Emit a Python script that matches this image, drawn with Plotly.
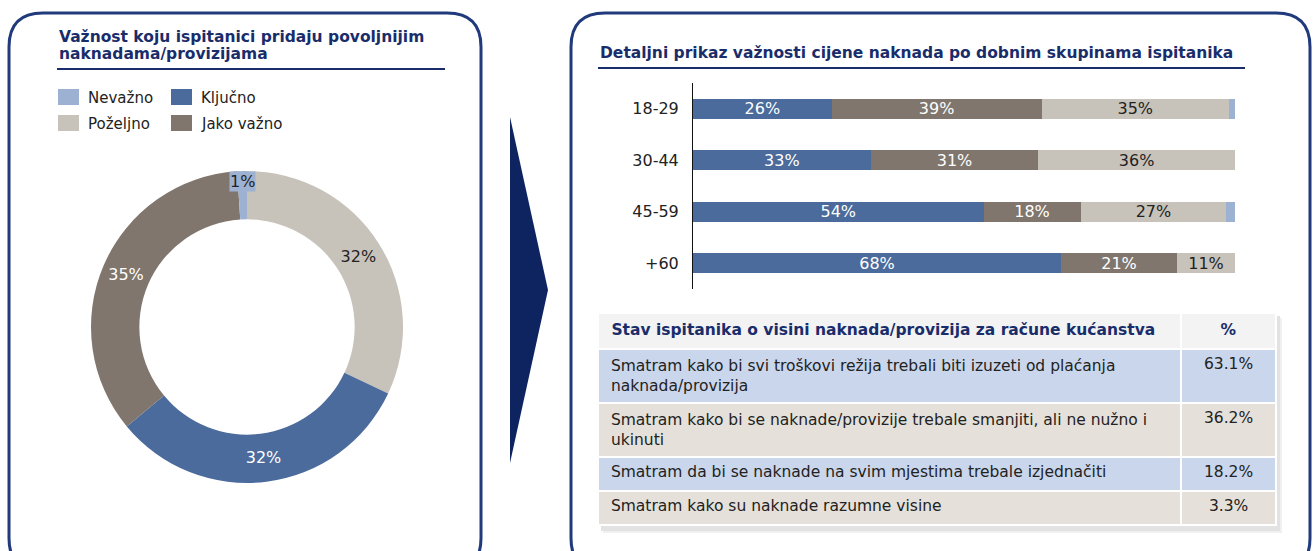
import math
import plotly.graph_objects as go

W, H = 1313, 551

# --- data ---
donut_labels = ["Poželjno", "Ključno", "Jako važno", "Nevažno"]
donut_values = [32, 32, 35, 1]

age_groups = ["18-29", "30-44", "45-59", "+60"]
kljucno = [25.6, 32.8, 53.6, 67.9]
jako_vazno = [38.7, 30.9, 17.9, 21.4]
pozeljno = [34.6, 36.3, 26.9, 10.7]
nevazno = [1.1, 0.0, 1.6, 0.0]

table_header = ["Stav ispitanika o visini naknada/provizija za račune kućanstva", "%"]
table_rows = [
    "Smatram kako bi svi troškovi režija trebali biti izuzeti od plaćanja<br>naknada/provizija",
    "Smatram kako bi se naknade/provizije trebale smanjiti, ali ne nužno i<br>ukinuti",
    "Smatram da bi se naknade na svim mjestima trebale izjednačiti",
    "Smatram kako su naknade razumne visine",
]
table_pct = [63.1, 36.2, 18.2, 3.3]

# --- styling ---
C_NEV = "#9db2d3"
C_KLJ = "#4a6b9b"
C_POZ = "#c8c3ba"
C_JAK = "#80766d"
NAVY = "#1a2d6b"
BORDER = "#203a7c"
FONT = "DejaVu Sans"
colour = {"Nevažno": C_NEV, "Ključno": C_KLJ, "Poželjno": C_POZ, "Jako važno": C_JAK}


def px(x):
    return x / W


def py(y):
    return 1 - y / H


fig = go.Figure()

# donut
cx, cy, r = 247, 327, 156
fig.add_trace(go.Pie(
    labels=donut_labels, values=donut_values, sort=False, direction="clockwise", rotation=0,
    hole=0.69, marker=dict(colors=[colour[l] for l in donut_labels], line=dict(width=0)),
    texttemplate=["%{value}%", "%{value}%", "%{value}%", ""], textposition="inside",
    insidetextorientation="horizontal",
    textfont=dict(family=FONT, size=16, color=["#222222", "white", "white", "#222222"]),
    domain=dict(x=[px(cx - r), px(cx + r)], y=[py(cy + r), py(cy - r)]),
    showlegend=False, hoverinfo="label+percent",
))

# stacked bars
for name, vals, tc in [("Ključno", kljucno, "white"), ("Jako važno", jako_vazno, "white"),
                       ("Poželjno", pozeljno, "#222222"), ("Nevažno", nevazno, "#222222")]:
    fig.add_trace(go.Bar(
        y=age_groups, x=vals, orientation="h", name=name, marker=dict(color=colour[name], line=dict(width=0)),
        texttemplate="%{x:.0f}%" if name != "Nevažno" else None, textposition="inside" if name != "Nevažno" else "none",
        insidetextanchor="middle", constraintext="none", textangle=0,
        textfont=dict(family=FONT, size=16, color=tc), showlegend=False,
    ))

# table
row_fill = ["#cad6eb", "#e5e1da", "#cad6eb", "#e5e1da"]
pad = "\u00a0"
fig.add_trace(go.Table(
    domain=dict(x=[px(598), px(1277)], y=[py(530), py(313)]),
    columnwidth=[584, 95],
    header=dict(values=[f"<b>{pad}{table_header[0]}</b>", f"<b>{table_header[1]}</b>"], fill_color="#f3f3f3",
                line=dict(color="white", width=2), align=["left", "center"], height=36,
                font=dict(family=FONT, size=15.5, color=NAVY)),
    cells=dict(values=[[pad + t.replace("<br>", "<br>" + pad) for t in table_rows],
                       [f"{v:.1f}%" for v in table_pct]],
               fill_color=[row_fill, row_fill],
               line=dict(color="white", width=2), align=["left", "center"], height=34,
               font=dict(family=FONT, size=15.5, color="#222222")),
))

shapes = []


def panel(x0, y0, x1, y1, rad):
    path = (f"M {px(x0)} {py(y0 + rad)} Q {px(x0)} {py(y0)} {px(x0 + rad)} {py(y0)} "
            f"L {px(x1 - rad)} {py(y0)} Q {px(x1)} {py(y0)} {px(x1)} {py(y0 + rad)} "
            f"L {px(x1)} {py(y1 - rad)} Q {px(x1)} {py(y1)} {px(x1 - rad)} {py(y1)} "
            f"L {px(x0 + rad)} {py(y1)} Q {px(x0)} {py(y1)} {px(x0)} {py(y1 - rad)} Z")
    return dict(type="path", xref="paper", yref="paper", path=path,
                line=dict(color=BORDER, width=3), fillcolor="rgba(0,0,0,0)", layer="below")


shapes.append(panel(9, 13, 481, 572, 34))
shapes.append(panel(571, 13, 1310, 572, 34))

# arrow
shapes.append(dict(type="path", xref="paper", yref="paper",
                   path=f"M {px(510)} {py(117)} L {px(548)} {py(290)} L {px(510)} {py(463)} Z",
                   fillcolor="#0e2460", line=dict(width=0)))

# title underlines
shapes.append(dict(type="line", xref="paper", yref="paper", x0=px(57), x1=px(445), y0=py(69), y1=py(69),
                   line=dict(color=NAVY, width=2)))
shapes.append(dict(type="line", xref="paper", yref="paper", x0=px(598), x1=px(1245), y0=py(68), y1=py(68),
                   line=dict(color=NAVY, width=2)))

# soft table shadow
for off, col in [(5, "#f0f0f0"), (3, "#e2e2e2")]:
    shapes.append(dict(type="rect", xref="paper", yref="paper", x0=px(598 + off), x1=px(1277 + off),
                       y0=py(528 + off), y1=py(313 + off), fillcolor=col, line=dict(width=0), layer="below"))

annotations = [
    dict(x=px(57), y=py(37), xref="paper", yref="paper", xanchor="left", yanchor="middle",
         text="<b>Važnost koju ispitanici pridaju povoljnijim</b>", showarrow=False,
         font=dict(family=FONT, size=15.5, color=NAVY)),
    dict(x=px(57), y=py(54), xref="paper", yref="paper", xanchor="left", yanchor="middle",
         text="<b>naknadama/provizijama</b>", showarrow=False,
         font=dict(family=FONT, size=15.5, color=NAVY)),
    dict(x=px(598), y=py(53), xref="paper", yref="paper", xanchor="left", yanchor="middle",
         text="<b>Detaljni prikaz važnosti cijene naknada po dobnim skupinama ispitanika</b>", showarrow=False,
         font=dict(family=FONT, size=15.5, color=NAVY)),
]

# manual legend
legend_items = [("Nevažno", 58, 97), ("Ključno", 171, 97), ("Poželjno", 58, 123), ("Jako važno", 171, 123)]
for name, lx, ly in legend_items:
    shapes.append(dict(type="rect", xref="paper", yref="paper", x0=px(lx), x1=px(lx + 21),
                       y0=py(ly + 8), y1=py(ly - 8), fillcolor=colour[name], line=dict(width=0)))
    annotations.append(dict(x=px(lx + 28), y=py(ly + 1), xref="paper", yref="paper", xanchor="left",
                            yanchor="middle", text=name, showarrow=False,
                            font=dict(family=FONT, size=15, color="#222222")))

# small donut slice label, placed at the slice's mid-angle near the outer edge
tot = sum(donut_values)
mid = 2 * math.pi * (sum(donut_values[:3]) + donut_values[3] / 2) / tot
lr = r - 10
annotations.append(dict(x=px(cx + lr * math.sin(mid)), y=py(cy - lr * math.cos(mid)), xref="paper",
                        yref="paper", xanchor="center", yanchor="middle", text=f"{donut_values[3]}%",
                        showarrow=False, bgcolor=C_NEV, borderpad=0,
                        font=dict(family=FONT, size=16, color="#222222")))

fig.update_layout(
    width=W, height=H, margin=dict(l=0, r=0, t=0, b=0),
    paper_bgcolor="white", plot_bgcolor="white",
    barmode="stack", bargap=0.61,
    xaxis=dict(domain=[px(693), px(1235)], range=[0, 100], visible=False, fixedrange=True),
    yaxis=dict(domain=[py(289), py(83)], categoryorder="array", categoryarray=age_groups[::-1],
               showline=True, linecolor="#111111", linewidth=1, ticks="", showgrid=False,
               tickfont=dict(family=FONT, size=16, color="#222222"), ticklabelstandoff=10, fixedrange=True),
    shapes=shapes, annotations=annotations,
)

fig.write_html("out.html", config={"displayModeBar": False},
               post_script="document.body.style.margin='0';")
